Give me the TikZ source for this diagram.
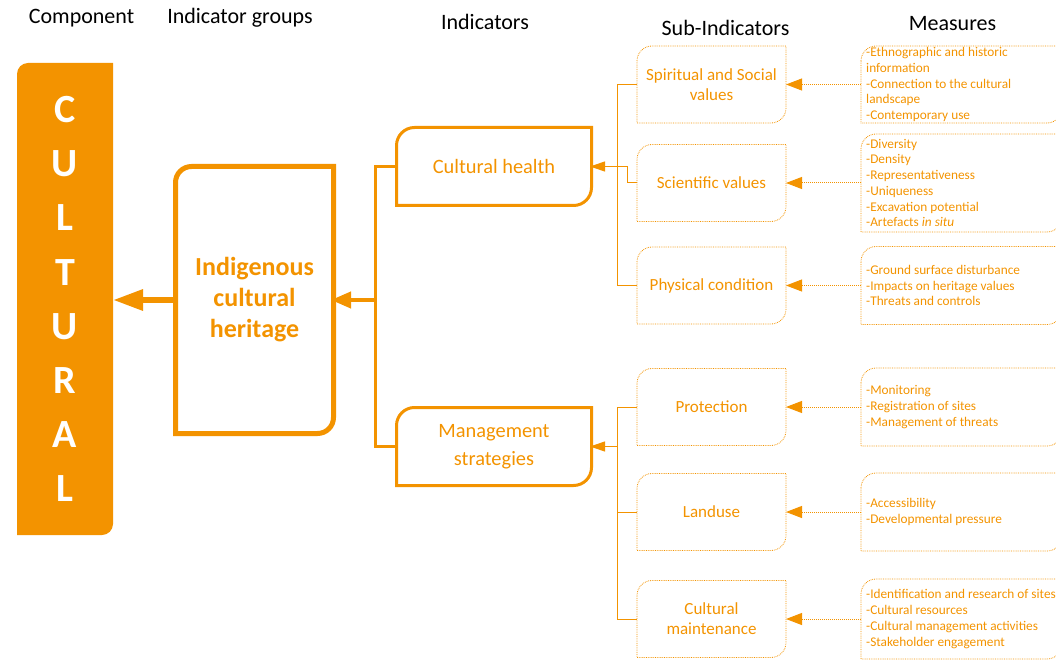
\documentclass[tikz,border=0pt]{standalone}
\usepackage{fontspec}
\setmainfont{Carlito}
\usepackage{tikz}
\usetikzlibrary{arrows.meta,calc}

\definecolor{heritage}{RGB}{243,147,0}

% box with rounded top-left and bottom-right corners
\newcommand{\leafbox}[3]{%
  \draw[#3] ($(#1.north west)+(0,-#2)$) arc[start angle=180,end angle=90,radius=#2pt]
    -- (#1.north east) -- ($(#1.south east)+(0,#2)$)
    arc[start angle=0,end angle=-90,radius=#2pt] -- (#1.south west) -- cycle;}

\begin{document}
\begin{tikzpicture}[x=1pt,y=1pt,
    frame/.style={inner sep=0pt,outer sep=0pt,align=center,text=heritage},
    letters/.style={text=white,align=center,inner sep=0pt,font=\fontsize{40}{54.2}\selectfont\bfseries},
    header/.style={anchor=base,inner sep=0pt,font=\fontsize{22}{26}\selectfont},
    indicator/.style={frame,minimum width=195pt,minimum height=78pt,font=\fontsize{20.4}{28}\selectfont},
    sub/.style={frame,minimum width=149pt,minimum height=77pt,font=\fontsize{17}{20}\selectfont},
    measure/.style={frame,minimum width=201pt},
    measuretext/.style={anchor=west,inner sep=0pt,align=left,text=heritage,font=\fontsize{13.3}{15.75}\selectfont},
    measurelink/.style={heritage,densely dotted,line width=1pt,-{Triangle[length=16pt,width=12pt]}},
    sublink/.style={heritage,line width=1pt},
    indlink/.style={heritage,line width=2.5pt}]

    \useasboundingbox (0,0) rectangle (1056,-660);
    \clip (0,0) rectangle (1056,-660);

    % column titles
    \node[header] (component) at (81.5,-24) {Component};
    \node[header] (groups) at (240,-24) {Indicator groups};
    \node[header] (indicators) at (485,-30) {Indicators};
    \node[header] (subindicators) at (725.5,-35.5) {Sub-Indicators};
    \node[header] (measures) at (952.5,-31) {Measures};

    % component
    \node[frame,minimum width=96pt,minimum height=472pt] (cultural) at (65,-299) {};
    \leafbox{cultural}{11}{fill=heritage,draw=none}
    \node[letters] (culturaltext) at (cultural) {C\\U\\L\\T\\U\\R\\A\\L};

    % indicator group
    \node[frame,minimum width=158pt,minimum height=267pt,font=\fontsize{26}{31}\selectfont\bfseries] (indigenous) at (254.5,-300) {Indigenous\\cultural\\heritage};
    \leafbox{indigenous}{16}{heritage,line width=5pt}

    % indicators
    \node[indicator] (health) at (494,-166.5) {Cultural health};
    \node[indicator] (strategies) at (494,-446.5) {Management\\strategies};
    \leafbox{health}{18}{heritage,line width=3pt}
    \leafbox{strategies}{18}{heritage,line width=3pt}

    % sub-indicators
    \node[sub] (spiritual) at (711.5,-84.5) {Spiritual and Social\\values};
    \node[sub] (scientific) at (711.5,-183) {Scientific values};
    \node[sub] (physical) at (711.5,-285.5) {Physical condition};
    \node[sub] (protection) at (711.5,-407) {Protection};
    \node[sub] (landuse) at (711.5,-512) {Landuse};
    \node[sub] (maintenance) at (711.5,-619) {Cultural\\maintenance};
    \foreach \n in {spiritual,scientific,physical,protection,landuse,maintenance}
        \leafbox{\n}{15}{heritage,densely dotted,line width=0.8pt};

    % measures
    \node[measure,minimum height=77pt] (mspiritual) at (961.5,-84.5) {};
    \node[measure,minimum height=98pt] (mscientific) at (961.5,-183) {};
    \node[measure,minimum height=78pt] (mphysical) at (961.5,-285.5) {};
    \node[measure,minimum height=78pt] (mprotection) at (961.5,-407) {};
    \node[measure,minimum height=78pt] (mlanduse) at (961.5,-512) {};
    \node[measure,minimum height=80pt] (mmaintenance) at (961.5,-619) {};
    \foreach \n in {mspiritual,mscientific,mphysical,mprotection,mlanduse,mmaintenance}
        \leafbox{\n}{15}{heritage,densely dotted,line width=0.8pt};

    \node[measuretext] (tspiritual) at ([xshift=5pt]mspiritual.west) {-Ethnographic and historic\\information\\-Connection to the cultural\\landscape\\-Contemporary use};
    \node[measuretext] (tscientific) at ([xshift=5pt]mscientific.west) {-Diversity\\-Density\\-Representativeness\\-Uniqueness\\-Excavation potential\\-Artefacts \textit{in situ}};
    \node[measuretext] (tphysical) at ([xshift=5pt]mphysical.west) {-Ground surface disturbance\\-Impacts on heritage values\\-Threats and controls};
    \node[measuretext] (tprotection) at ([xshift=5pt]mprotection.west) {-Monitoring\\-Registration of sites\\-Management of threats};
    \node[measuretext] (tlanduse) at ([xshift=5pt]mlanduse.west) {-Accessibility\\-Developmental pressure};
    \node[measuretext] (tmaintenance) at ([xshift=5pt]mmaintenance.west) {-Identification and research of sites\\-Cultural resources\\-Cultural management activities\\-Stakeholder engagement};

    % measures to sub-indicators
    \draw[measurelink] (mspiritual.west) -- (spiritual.east);
    \draw[measurelink] (mscientific.west) -- (scientific.east);
    \draw[measurelink] (mphysical.west) -- (physical.east);
    \draw[measurelink] (mprotection.west) -- (protection.east);
    \draw[measurelink] (mlanduse.west) -- (landuse.east);
    \draw[measurelink] (mmaintenance.west) -- (maintenance.east);

    % sub-indicators to indicators
    \draw[sublink] (spiritual.west) -- ++(-20,0) |- (physical.west);
    \draw[sublink,-{Triangle[length=15pt,width=10pt]},shorten >=-1.5pt] (scientific.west) -- ++(-10,0) |- (health.east);
    \draw[sublink] (protection.west) -- ++(-20,0) |- (maintenance.west);
    \draw[sublink] (landuse.west) -- ++(-20,0);
    \draw[sublink,-{Triangle[length=15pt,width=10pt]},shorten >=-1.5pt] (protection.west) -- ++(-20,0) |- (strategies.east);

    % indicators to group
    \draw[indlink] (health.west) -- ++(-21,0) |- (strategies.west);
    \coordinate (indjoin) at (375,-300);
    \draw[indlink,line width=4pt,-{Triangle[length=20pt,width=16pt]},shorten >=-2.5pt] (indjoin) -- (indigenous.east);

    % group to component
    \draw[heritage,line width=6pt,-{Triangle[length=30pt,width=20pt]}] (indigenous.west) -- (indigenous.west -| cultural.east);
\end{tikzpicture}
\end{document}
